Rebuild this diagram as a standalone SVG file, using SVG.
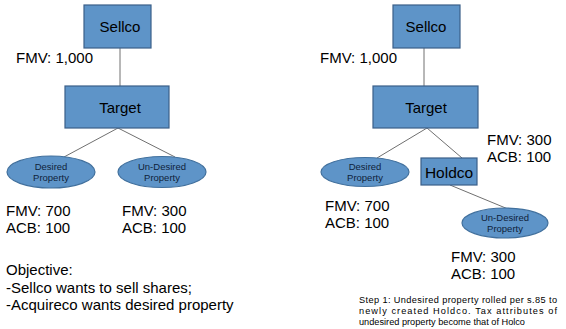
<svg xmlns="http://www.w3.org/2000/svg" width="566" height="329" viewBox="0 0 566 329">
<style>
.box{fill:#5e94c8;stroke:#3b5f89;stroke-width:1.2}
.ell{fill:#5e94c8;stroke:#41709d;stroke-width:1.2}
.t{font-family:"Liberation Sans",Arial,sans-serif;fill:#000}
.big{font-size:15px}
.node{font-size:15px;text-anchor:middle}
.sm{font-size:9.5px;text-anchor:middle;fill:#0f1f3a}
.note{font-size:9.2px}
.conn line{stroke:#707070;stroke-width:1}
</style>
<rect width="566" height="329" fill="#fff"/>
<g class="conn">
<line x1="120" y1="48" x2="120" y2="86"/>
<line x1="118" y1="128" x2="64" y2="157"/>
<line x1="118" y1="128" x2="175" y2="157"/>
<line x1="424" y1="48" x2="424" y2="86"/>
<line x1="427" y1="128" x2="377" y2="158"/>
<line x1="427" y1="128" x2="462" y2="158"/>
<line x1="450" y1="185" x2="508" y2="209"/>
</g>
<g id="sellco-left"><rect class="box" x="84" y="5" width="67" height="43"/><text class="t node" x="120" y="32">Sellco</text></g>
<g id="target-left"><rect class="box" x="65" y="86" width="104" height="42"/><text class="t node" x="120" y="113">Target</text></g>
<g id="desired-left"><ellipse class="ell" cx="51" cy="172" rx="44" ry="16"/><text class="t sm" x="51" y="170">Desired</text><text class="t sm" x="51" y="181">Property</text></g>
<g id="undesired-left"><ellipse class="ell" cx="162" cy="172" rx="44" ry="15.5"/><text class="t sm" x="162" y="170">Un-Desired</text><text class="t sm" x="162" y="181">Property</text></g>
<g id="sellco-right"><rect class="box" x="393" y="5" width="67" height="43"/><text class="t node" x="426" y="32">Sellco</text></g>
<g id="target-right"><rect class="box" x="373" y="86" width="105" height="42"/><text class="t node" x="426" y="113">Target</text></g>
<g id="desired-right"><ellipse class="ell" cx="365" cy="172" rx="44" ry="14.5"/><text class="t sm" x="365" y="170">Desired</text><text class="t sm" x="365" y="181">Property</text></g>
<g id="holdco"><rect class="box" x="421" y="158" width="56" height="27"/><text class="t node" x="449" y="178" style="font-size:15.5px">Holdco</text></g>
<g id="undesired-right"><ellipse class="ell" cx="505" cy="223" rx="43" ry="15"/><text class="t sm" x="505" y="221">Un-Desired</text><text class="t sm" x="505" y="232">Property</text></g>
<g id="labels">
<text class="t big" x="16" y="63">FMV: 1,000</text>
<text class="t big" x="6" y="216">FMV: 700</text>
<text class="t big" x="6" y="233">ACB: 100</text>
<text class="t big" x="122" y="216">FMV: 300</text>
<text class="t big" x="122" y="233">ACB: 100</text>
<text class="t big" x="6" y="275">Objective:</text>
<text class="t big" x="6" y="293">-Sellco wants to sell shares;</text>
<text class="t big" x="6" y="310">-Acquireco wants desired property</text>
<text class="t big" x="320" y="63">FMV: 1,000</text>
<text class="t big" x="487" y="145">FMV: 300</text>
<text class="t big" x="487" y="162">ACB: 100</text>
<text class="t big" x="325" y="211">FMV: 700</text>
<text class="t big" x="325" y="228">ACB: 100</text>
<text class="t big" x="451" y="262">FMV: 300</text>
<text class="t big" x="451" y="279">ACB: 100</text>
<text class="t note" x="359" y="303" textLength="198" lengthAdjust="spacing">Step 1: Undesired property rolled per s.85 to</text>
<text class="t note" x="359" y="314" textLength="198" lengthAdjust="spacing">newly created Holdco. Tax attributes of</text>
<text class="t note" x="359" y="325">undesired property become that of Holco</text>
</g>
</svg>
